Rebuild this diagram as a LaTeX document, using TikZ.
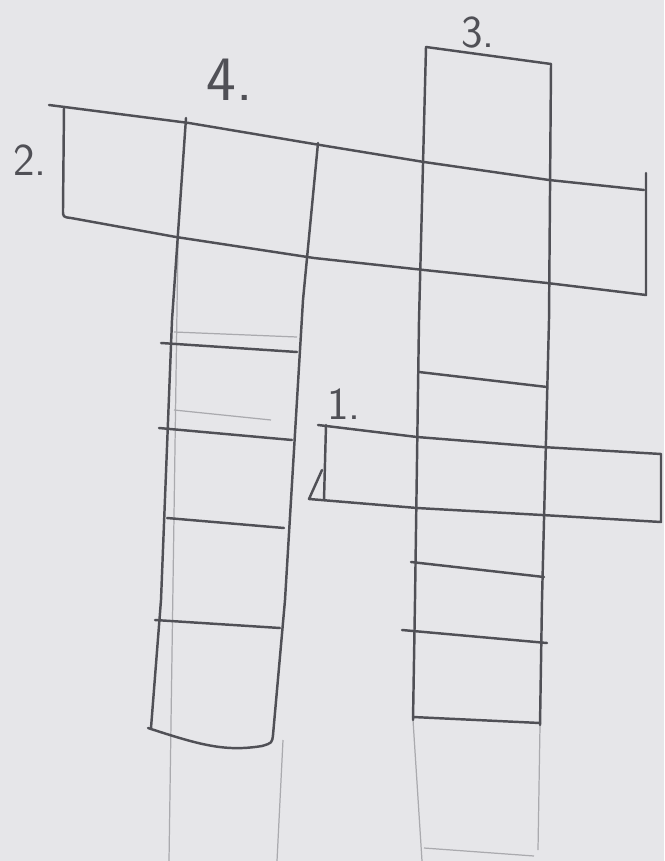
\documentclass[tikz,border=0pt]{standalone}
\usepackage{tikz}
\usetikzlibrary{calc}
\definecolor{paper}{RGB}{230,230,233}
\definecolor{lead}{RGB}{80,80,86}

\begin{document}
\begin{tikzpicture}[x=0.02cm, y=-0.02cm,
    pencil/.style={draw=lead, line width=1.4pt, line cap=round, line join=round},
    faint/.style={draw=lead!40!paper, line width=0.7pt},
    lbl/.style={text=lead, font=\sffamily}]
  \fill[paper] (0,0) rectangle (664,861);
  \useasboundingbox (0,0) rectangle (664,861);

  % faint guide lines
  \draw[faint] (178,240) -- (169,861);
  \draw[faint] (283,740) -- (277,861);
  \draw[faint] (174,332) -- (297,337);
  \draw[faint] (174,410) -- (271,420);
  \draw[faint] (413,720) -- (422,861);
  \draw[faint] (540,725) -- (538,850);
  \draw[faint] (424,848) -- (534,856);

  % word 2 (across, top)
  \draw[pencil] (49,105) -- (189,123) -- (320,145) -- (424,162) -- (549,180) -- (644,190);
  \draw[pencil] (64,107) -- (63,210) .. controls (63,217) .. (71,218)
        -- (176,237) -- (314,258) -- (424,270) -- (547,283) -- (646,295) -- (646,173);

  % word 4 (down, left)
  \draw[pencil] (186,118) -- (172,320) -- (161,600) -- (151,728);
  \draw[pencil] (148,728) .. controls (200,745) and (225,752) .. (262,746)
        .. controls (272,743) .. (273,735);
  \draw[pencil] (318,143) -- (303,300) -- (285,600) -- (273,735);
  \draw[pencil] (161,343) -- (297,352);
  \draw[pencil] (159,428) -- (292,440);
  \draw[pencil] (167,518) -- (284,528);
  \draw[pencil] (155,620) -- (280,628);

  % word 3 (down, right)
  \draw[pencil] (426,47) -- (551,64);
  \draw[pencil] (426,47) -- (419,320) -- (415,600) -- (413,720);
  \draw[pencil] (551,64) -- (549,320) -- (542,600) -- (540,725);
  \draw[pencil] (419,372) -- (547,387);
  \draw[pencil] (411,562) -- (544,577);
  \draw[pencil] (402,630) -- (547,643);
  \draw[pencil] (413,717) -- (540,723);

  % word 1 (across, middle)
  \draw[pencil] (318,425) -- (417,437) -- (542,447) -- (661,454) -- (661,522)
        -- (542,515) -- (417,508) -- (309,499) -- (322,470);
  \draw[pencil] (326,425) -- (324,500);

  % numbers
  \node[lbl, font=\sffamily\fontsize{36}{40}\selectfont] (n4) at (230,80) {4.};
  \node[lbl, font=\sffamily\fontsize{26}{30}\selectfont] (n3) at (478,33) {3.};
  \node[lbl, font=\sffamily\fontsize{26}{30}\selectfont] (n2) at (30,160) {2.};
  \node[lbl, font=\sffamily\fontsize{26}{30}\selectfont] (n1) at (344,404) {1.};
\end{tikzpicture}
\end{document}
